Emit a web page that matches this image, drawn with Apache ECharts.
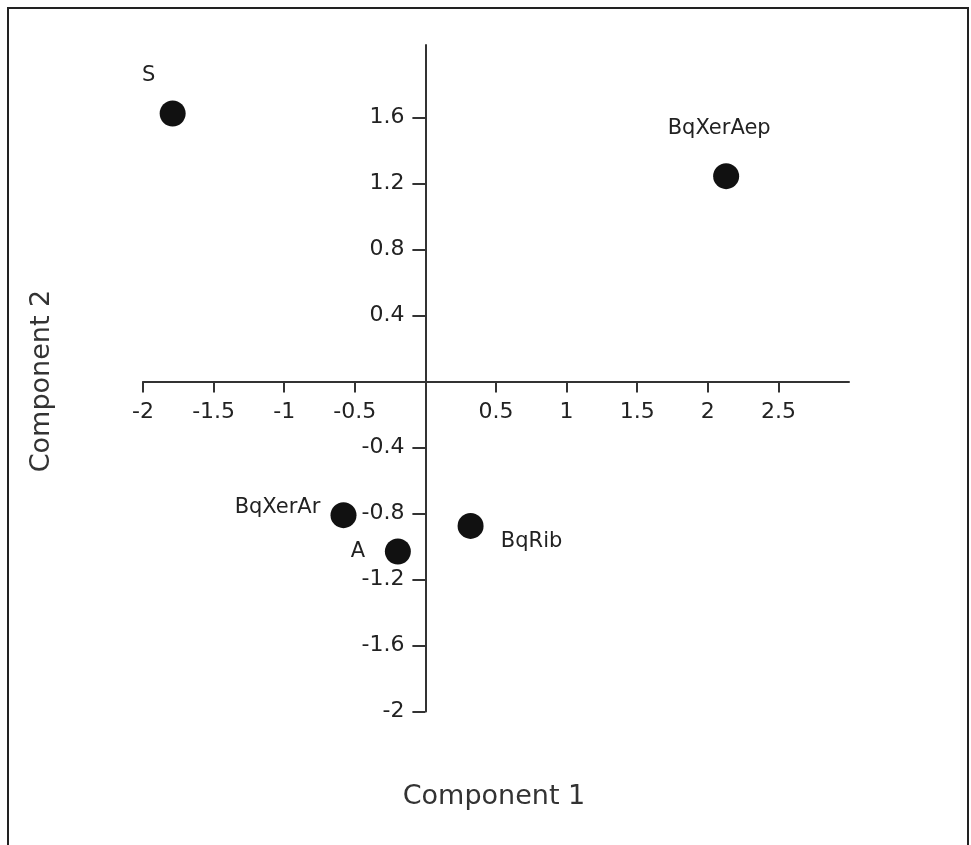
<!DOCTYPE html>
<html>
<head>
<meta charset="utf-8">
<script src="https://cdn.jsdelivr.net/npm/echarts@6/dist/echarts.min.js"></script>
<style>
html,body{margin:0;padding:0;background:#fff;}
#chart{width:971px;height:845px;}
</style>
</head>
<body>
<div id="chart"></div>
<script>
// ---- data ----
var names = ['S', 'BqXerAep', 'BqXerAr', 'A', 'BqRib'];
var comp1 = [-1.79, 2.13, -0.58, -0.195, 0.32];
var comp2 = [1.625, 1.245, -0.81, -1.03, -0.875];
var xTicks = [-2, -1.5, -1, -0.5, 0.5, 1, 1.5, 2, 2.5];
var yTicks = [-2, -1.6, -1.2, -0.8, -0.4, 0.4, 0.8, 1.2, 1.6];
var xTitle = 'Component 1';
var yTitle = 'Component 2';

// ---- layout ----
var labelOffsets = {
  'S': [-24, -38],
  'BqXerAep': [-7, -48],
  'BqXerAr': [-66, -8],
  'A': [-40, 0],
  'BqRib': [61, 16]
};
var gridLeft = 143, gridRight = 122, gridTop = 45, gridBottom = 133.5;
var W = 971, H = 845;
var xMin = -2, xMax = 3, yMin = -2, yMax = 2.04;
// move axes onto the zero lines (axis line, ticks and labels together)
var plotW = W - gridLeft - gridRight, plotH = H - gridTop - gridBottom;
var xAxisOffset = -plotH * (0 - yMin) / (yMax - yMin);
var yAxisOffset = -plotW * (0 - xMin) / (xMax - xMin);

var points = names.map(function (n, i) {
  return { name: n, value: [comp1[i], comp2[i]], label: { offset: labelOffsets[n] } };
});

var chart = echarts.init(document.getElementById('chart'));
var axisFont = { fontFamily: 'DejaVu Sans', fontSize: 22, color: '#222' };

chart.setOption({
  animation: false,
  backgroundColor: '#fff',
  grid: { left: gridLeft, right: gridRight, top: gridTop, bottom: gridBottom, containLabel: false },
  xAxis: {
    type: 'value', min: xMin, max: xMax, interval: 0.5,
    position: 'bottom', offset: xAxisOffset,
    axisLine: { onZero: false, lineStyle: { color: '#333', width: 2 } },
    axisTick: { show: true, length: 11, customValues: xTicks, lineStyle: { color: '#333', width: 2 } },
    axisLabel: Object.assign({ margin: 20, customValues: xTicks, formatter: function (v) { return String(v); } }, axisFont),
    splitLine: { show: false }
  },
  yAxis: {
    type: 'value', min: yMin, max: yMax, interval: 0.4,
    position: 'left', offset: yAxisOffset,
    axisLine: { onZero: false, lineStyle: { color: '#333', width: 2 } },
    axisTick: { show: true, length: 13, customValues: yTicks, lineStyle: { color: '#333', width: 2 } },
    axisLabel: Object.assign({ margin: 21, customValues: yTicks, formatter: function (v) { return String(v); } }, axisFont),
    splitLine: { show: false }
  },
  series: [{
    type: 'scatter',
    symbol: 'circle',
    symbolSize: 26,
    itemStyle: { color: '#111', borderWidth: 0, opacity: 1 },
    label: {
      show: true,
      position: 'inside',
      align: 'center',
      verticalAlign: 'middle',
      formatter: '{b}',
      fontFamily: 'DejaVu Sans',
      fontSize: 21,
      color: '#222',
      textBorderWidth: 0
    },
    data: points,
    z: 5
  }],
  graphic: [
    { type: 'rect', shape: { x: 8, y: 8, width: 960, height: 860 }, style: { fill: 'none', stroke: '#222', lineWidth: 2 }, silent: true },
    { type: 'text', x: 494, y: 797, style: { text: xTitle, fontFamily: 'DejaVu Sans', fontSize: 27, fill: '#333', align: 'center', verticalAlign: 'middle' } },
    { type: 'text', x: 42, y: 381, rotation: Math.PI / 2, style: { text: yTitle, fontFamily: 'DejaVu Sans', fontSize: 27, fill: '#333', align: 'center', verticalAlign: 'middle' } }
  ]
});
</script>
</body>
</html>
